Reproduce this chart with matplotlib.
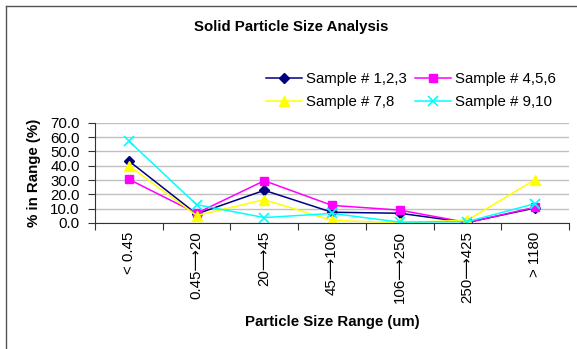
import matplotlib
matplotlib.use("Agg")
import matplotlib.pyplot as plt
from matplotlib.lines import Line2D

plt.rcParams['font.family'] = ['Liberation Sans', 'DejaVu Sans']

categories = ['< 0.45', '0.45⟶20', '20⟶45', '45⟶106', '106⟶250', '250⟶425', '> 1180']
s123 = [43.3, 6.3, 22.8, 7.5, 6.8, 0.4, 10.5]
s456 = [30.5, 6.8, 29.5, 12.3, 9.0, 0.3, 11.0]
s78 = [40.0, 5.2, 16.3, 1.8, 0.2, 2.0, 30.3]
s910 = [57.2, 12.8, 3.8, 6.7, 0.6, 1.0, 13.5]

W, H = 577, 349
fig = plt.figure(figsize=(W / 100, H / 100), dpi=100)
ax = fig.add_axes([95 / W, 1 - 223 / H, (569 - 95) / W, (223 - 122.7) / H])

fs = 10.8
x = list(range(len(categories)))
l1, = ax.plot(x, s123, color='#000080', marker='D', ms=5.5, lw=1.1, label='Sample # 1,2,3')
l2, = ax.plot(x, s456, color='#FF00FF', marker='s', ms=6, lw=1.1, label='Sample # 4,5,6')
l3, = ax.plot(x, s78, color='#FFFF00', marker='^', ms=7, lw=1.1, label='Sample # 7,8')
l4, = ax.plot(x, s910, color='#00FFFF', marker='x', ms=7, mew=1.2, lw=1.1, label='Sample # 9,10')

ax.set_xlim(-0.5, len(categories) - 0.5)
ax.set_ylim(0, 70)
ax.set_yticks(range(0, 71, 10))
ax.set_yticklabels([f'{v:.1f}' for v in range(0, 71, 10)], fontsize=fs)
ax.set_xticks([i - 0.5 for i in range(len(categories) + 1)])
ax.set_xticklabels([])
ax.set_xticks(x, minor=True)
ax.set_xticklabels(categories, minor=True, rotation=90, fontsize=fs, va='top')
ax.tick_params(axis='x', which='minor', length=0, pad=6)
ax.tick_params(axis='x', which='major', length=5, color='#333333')
ax.tick_params(axis='y', length=5, color='#333333', pad=6)
ax.grid(axis='y', color='#c0c0c0', lw=1)
ax.set_axisbelow(True)
for s in ['top', 'right']:
    ax.spines[s].set_visible(False)
for s in ['left', 'bottom']:
    ax.spines[s].set_color('#333333')

ax.set_xlabel('Particle Size Range (um)', fontsize=fs, fontweight='bold', va='center')
ax.xaxis.set_label_coords(0.5, (223 - 322) / (223 - 122.7))
ax.set_ylabel('% in Range (%)', fontsize=fs, fontweight='bold', va='center', ha='center')
ax.yaxis.set_label_coords((34 - 95) / (569 - 95), 0.5)

fig.text(291 / W, 1 - 27 / H, 'Solid Particle Size Analysis', fontsize=fs, fontweight='bold',
         ha='center', va='center')

fig.legend([l1, l3, l2, l4], [l1.get_label(), l3.get_label(), l2.get_label(), l4.get_label()],
           ncol=2, loc='upper left', bbox_to_anchor=(266 / W, 1 - 72 / H), frameon=False,
           fontsize=fs, borderpad=0, borderaxespad=0, handlelength=2.4, handletextpad=0.27,
           columnspacing=0.55, labelspacing=0.62)

# chart frame
fig.add_artist(Line2D([6 / W, 1], [1 - 6 / H, 1 - 6 / H], color='#555555', lw=1))
fig.add_artist(Line2D([6 / W, 6 / W], [0, 1 - 6 / H], color='#555555', lw=1))

fig.savefig('out.png', dpi=100)
